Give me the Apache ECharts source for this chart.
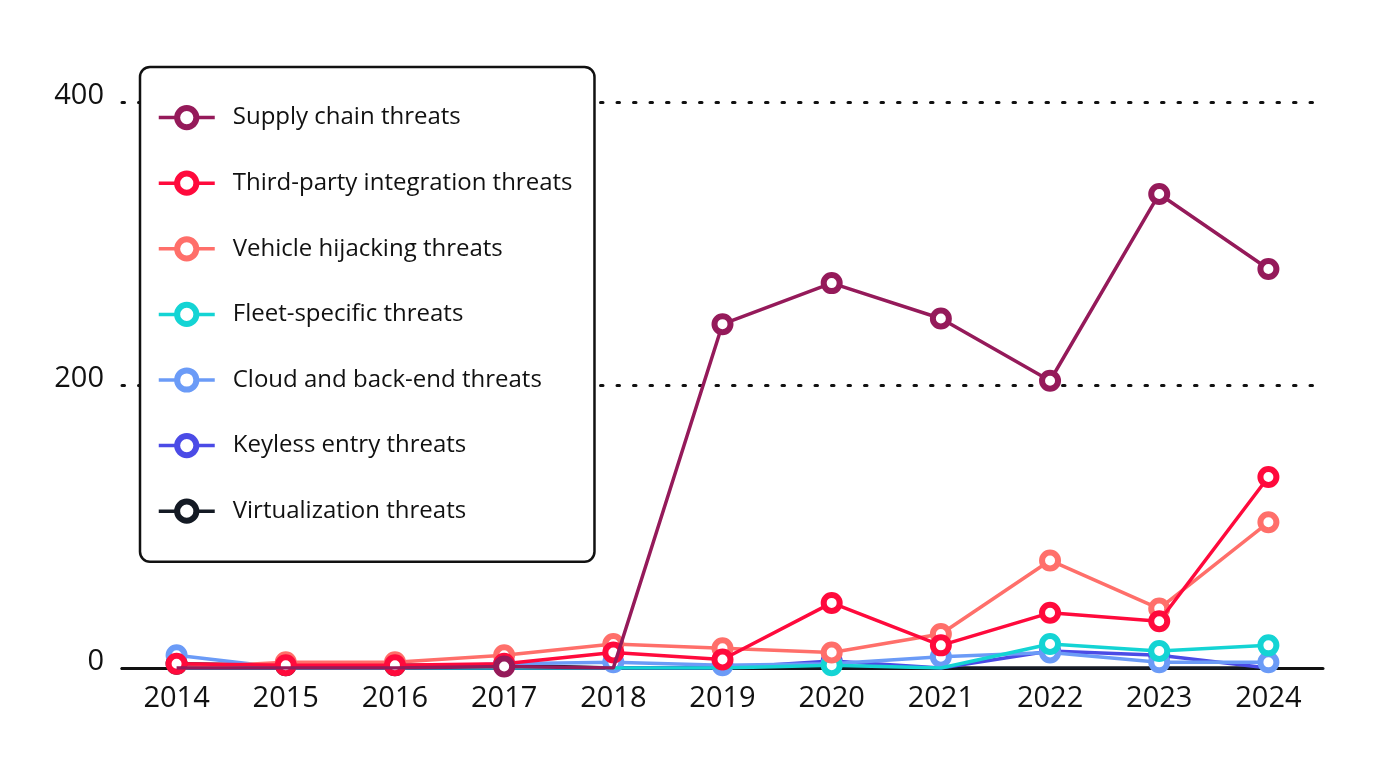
<!DOCTYPE html>
<html>
<head>
<meta charset="utf-8">
<script src="https://cdn.jsdelivr.net/npm/echarts@6/dist/echarts.min.js"></script>
<style>
html,body{margin:0;padding:0;background:#fff;}
#chart{width:1400px;height:763px;}
</style>
</head>
<body>
<div id="chart"></div>
<script>
var years = ['2014','2015','2016','2017','2018','2019','2020','2021','2022','2023','2024'];
var supplyChain    = [0, 0, 0, 1, 0, 243, 272, 247, 203, 335, 282];
var thirdParty     = [3, 2, 2, 3, 11, 6, 46, 16, 39, 33, 135];
var vehicleHijack  = [0, 4, 4, 9, 17, 14, 11, 24, 76, 42, 103];
var fleetSpecific  = [0, 0, 0, 0, 0, 0, 2, 0, 17, 12, 16];
var cloudBackend   = [9, 0, 0, 3, 4, 2, 3, 8, 11, 4, 4];
var keylessEntry   = [0, 0, 0, 0, 0, 0, 5, 0, 12, 9, 0];
var virtualization = [3, 2, 2, 2, 0, 0, 0, 0, 0, 0, 0];
var yTicks = [0, 200, 400];

var seriesDefs = [
  {name:'Supply chain threats', data:supplyChain, color:'#951a5a'},
  {name:'Third-party integration threats', data:thirdParty, color:'#ff0a3c'},
  {name:'Vehicle hijacking threats', data:vehicleHijack, color:'#ff6f6a'},
  {name:'Fleet-specific threats', data:fleetSpecific, color:'#14d4d4'},
  {name:'Cloud and back-end threats', data:cloudBackend, color:'#6b9bf7'},
  {name:'Keyless entry threats', data:keylessEntry, color:'#4b4be6'},
  {name:'Virtualization threats', data:virtualization, color:'#141a24'}
];

var chart = echarts.init(document.getElementById('chart'));
var series = seriesDefs.map(function(s, i){
  return {
    name: s.name,
    type: 'line',
    data: s.data.map(function(v){ return v === 0 ? {value: v, symbol: 'none'} : v; }),
    symbol: 'circle',
    symbolSize: 16,
    showAllSymbol: true,
    z: 10 - i,
    lineStyle: {color: s.color, width: 3.5},
    itemStyle: {color: '#fff', borderColor: s.color, borderWidth: 6},
    emphasis: {disabled: true}
  };
});

chart.setOption({
  animation: false,
  backgroundColor: '#fff',
  textStyle: {fontFamily: 'Open Sans'},
  grid: {left: 122, right: 77, top: 102, bottom: 95, containLabel: false},
  legend: {
    orient: 'vertical',
    left: 140, top: 67,
    padding: [38, 22, 38, 17],
    data: seriesDefs.map(function(s){return s.name;}),
    backgroundColor: '#fff',
    borderColor: '#111',
    borderWidth: 2.5,
    borderRadius: 10,
    itemWidth: 56,
    itemHeight: 24,
    itemGap: 40.4,
    itemStyle: {borderWidth: 6},
    lineStyle: {width: 3.5},
    textStyle: {fontSize: 24, color: '#111', fontFamily: 'Open Sans', padding: [0,0,0,13]},
    z: 20
  },
  xAxis: {
    type: 'category',
    data: years,
    boundaryGap: true,
    axisLine: {lineStyle: {color: '#111', width: 3}},
    axisTick: {show: false},
    axisLabel: {fontSize: 29, color: '#111', margin: 16, fontFamily: 'Open Sans'},
    splitLine: {show: false}
  },
  yAxis: {
    type: 'value',
    min: 0, max: 400, interval: 200,
    axisLine: {show: false},
    axisTick: {show: false},
    axisLabel: {fontSize: 29, color: '#111', margin: 18, verticalAlign: 'bottom', lineHeight: 29, padding: [0,0,-8,0],
      formatter: function(v){ return yTicks.indexOf(v) >= 0 ? String(v) : ''; }},
    splitLine: {show: true, lineStyle: {color: '#111', width: 3, type: [2.5, 14], cap: 'round'}}
  },
  series: series
});
</script>
</body>
</html>
